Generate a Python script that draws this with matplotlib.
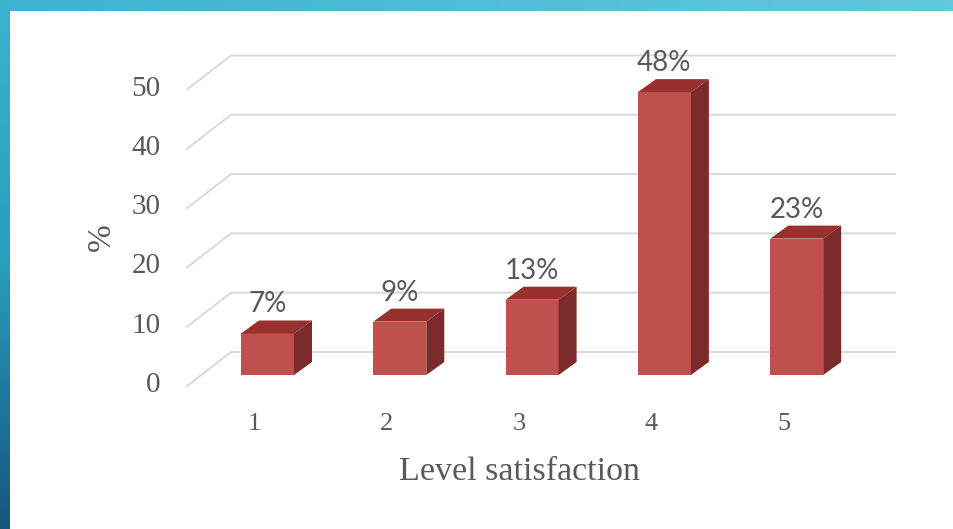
import numpy as np
import matplotlib
matplotlib.use('Agg')
import matplotlib.pyplot as plt
from matplotlib.colors import LinearSegmentedColormap
from matplotlib.patches import Polygon
from matplotlib.transforms import ScaledTranslation

# data
levels = [1, 2, 3, 4, 5]
percent = [7, 9, 12.7, 47.7, 23]
percent_labels = ['7%', '9%', '13%', '48%', '23%']
y_ticks = [0, 10, 20, 30, 40, 50]

W, H = 954, 529
fig = plt.figure(figsize=(W / 100, H / 100), dpi=100, facecolor='white')

# teal frame, top strip and left strip
top_cmap = LinearSegmentedColormap.from_list('top', ['#3db3d0', '#62c8dd'])
left_cmap = LinearSegmentedColormap.from_list('left', ['#3db3d0', '#2a9dbd', '#15557c'])
ax_top = fig.add_axes([0, 1 - 11 / H, 1, 11 / H])
ax_top.imshow(np.linspace(0, 1, 256).reshape(1, -1), aspect='auto', cmap=top_cmap)
ax_top.axis('off')
ax_left = fig.add_axes([0, 0, 10 / W, 1])
ax_left.imshow(np.linspace(0, 1, 256).reshape(-1, 1), aspect='auto', cmap=left_cmap)
ax_left.axis('off')

# plot area in pixels, scales come from the front plane of the bars
px_left, px_right, px_top, px_bottom = 187, 895, 56, 387
x_unit = 132.3
y_unit = 5.93
ax = fig.add_axes([px_left / W, 1 - px_bottom / H, (px_right - px_left) / W, (px_bottom - px_top) / H])
ax.set_xlim(1 + (px_left - 267.5) / x_unit, 1 + (px_right - 267.5) / x_unit)
ax.set_ylim((375 - px_bottom) / y_unit, (375 - px_top) / y_unit)
ax.patch.set_alpha(0)
for s in ax.spines.values():
    s.set_visible(False)

# walls of the 3d box
wall_x0, wall_x1 = ax.get_xlim()[0], ax.get_xlim()[1]
depth_x = 44 / x_unit
for t in y_ticks:
    back = t + 23 / y_unit
    front = back - 34 / y_unit
    ax.plot([wall_x0, wall_x0 + depth_x, wall_x1], [front, back, back],
            color='#d9d9d9', lw=1.4, zorder=1, solid_joinstyle='miter', clip_on=False)

# bars with top and side faces
bar_w = 53 / x_unit
dx = 18 / x_unit
dy = 13 / y_unit
ax.bar(levels, percent, width=bar_w, color='#c0504d', zorder=3)
for lv, val, lab in zip(levels, percent, percent_labels):
    l = lv - bar_w / 2
    r = lv + bar_w / 2
    ax.add_patch(Polygon([[l, val], [r, val], [r + dx, val + dy], [l + dx, val + dy]],
                         closed=True, facecolor='#98302d', edgecolor='none', zorder=3, clip_on=False))
    ax.add_patch(Polygon([[r, 0], [r + dx, dy], [r + dx, val + dy], [r, val]],
                         closed=True, facecolor='#7b2c2a', edgecolor='none', zorder=3, clip_on=False))
    ax.annotate(lab, (lv, val), xytext=(0, 29), textcoords='offset pixels', ha='center', va='center',
                fontsize=20, family='Lato', color='#595959', zorder=4, annotation_clip=False)

# ticks
ax.set_xticks(levels)
ax.set_xticklabels([str(v) for v in levels])
ax.set_yticks(y_ticks)
ax.tick_params(axis='both', length=0, labelsize=21, labelcolor='#595959')
ax.tick_params(axis='x', pad=19, labelsize=19)
ax.tick_params(axis='y', pad=19)
for lab in ax.get_xticklabels() + ax.get_yticklabels():
    lab.set_family('Liberation Serif')
for lab in ax.get_xticklabels():
    lab.set_transform(lab.get_transform() + ScaledTranslation(-13 / 100, 0, fig.dpi_scale_trans))
for lab in ax.get_yticklabels():
    lab.set_transform(lab.get_transform() + ScaledTranslation(0, -7 / 100, fig.dpi_scale_trans))

fig.text(519 / W, 1 - 472 / H, 'Level satisfaction', ha='center', va='center',
         fontsize=24.5, family='Liberation Serif', color='#595959')
fig.text(102 / W, 1 - 237 / H, '%', ha='center', va='center', rotation=90,
         fontsize=24, family='Liberation Serif', color='#595959')

fig.savefig('out.png', dpi=100)
